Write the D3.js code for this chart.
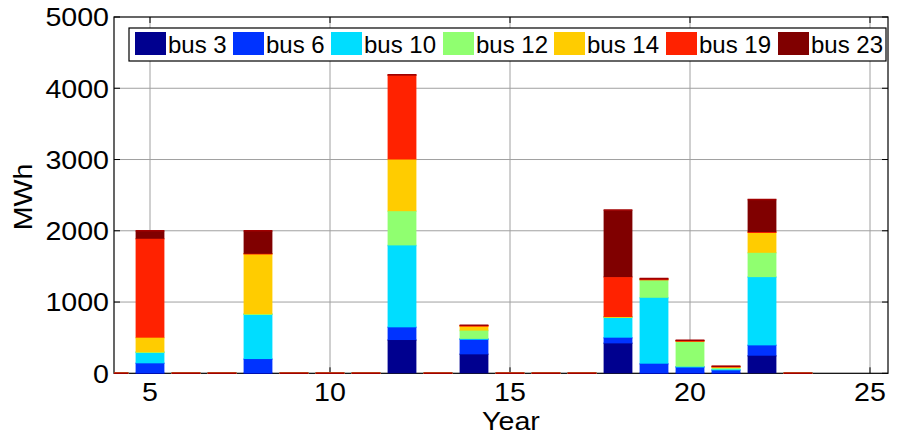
<!DOCTYPE html>
<html>
<head>
<meta charset="utf-8">
<script src="https://cdn.jsdelivr.net/npm/d3@7"></script>
<style>
  html, body { margin: 0; padding: 0; background: #fff; }
  svg { display: block; }
  text { font-family: "Liberation Sans", Arial, Helvetica, sans-serif; fill: #000; }
</style>
</head>
<body>
<svg id="chart" width="903" height="438"></svg>
<script>
// ---- data ----
const years = [4, 5, 6, 7, 8, 9, 10, 11, 12, 13, 14, 15, 16, 17, 18, 19, 20, 21, 22, 23];
const seriesNames = ["bus 3", "bus 6", "bus 10", "bus 12", "bus 14", "bus 19", "bus 23"];
const bus3  = [0, 0,    0, 0, 0,   0, 0, 0, 467,  0, 266, 0, 0, 0, 420, 0,   0,   0,  247, 0];
const bus6  = [0, 140,  0, 0, 200, 0, 0, 0, 178,  0, 217, 0, 0, 0, 80,  135, 93,  45, 145, 0];
const bus10 = [0, 155,  0, 0, 630, 0, 0, 0, 1150, 0, 0,   0, 0, 0, 290, 925, 0,   10, 958, 0];
const bus12 = [0, 0,    0, 0, 0,   0, 0, 0, 480,  0, 116, 0, 0, 0, 0,   258, 360, 25, 341, 0];
const bus14 = [0, 205,  0, 0, 847, 0, 0, 0, 725,  0, 60,  0, 0, 0, 0,   0,   0,   5,  290, 0];
const bus19 = [0, 1388, 0, 0, 0,   0, 0, 0, 1182, 0, 10,  0, 0, 0, 560, 0,   0,   10, 0,   0];
const bus23 = [0, 112,  0, 0, 323, 0, 0, 0, 8,    0, 5,   0, 0, 0, 940, 14,  12,  5,  459, 0];
const seriesColors = ["#00008f", "#0033ff", "#00ddff", "#90ff70", "#ffcc00", "#ff2200", "#800000"];
const xTicks = [5, 10, 15, 20, 25];
const yTicks = [0, 1000, 2000, 3000, 4000, 5000];
const xLabel = "Year";
const yLabel = "MWh";

// ---- layout ----
const svg = d3.select("#chart");
const L = 114, R = 888, T = 17, B = 373.3;
const x = d3.scaleLinear().domain([4, 25.5]).range([L, R]);
const y = d3.scaleLinear().domain([0, 5000]).range([B, T]);
const barW = x(4.8) - x(4);
const stretch = 1.1;

const allSeries = [bus3, bus6, bus10, bus12, bus14, bus19, bus23];
const table = years.map((yr, i) => {
  const o = { year: yr };
  seriesNames.forEach((n, k) => o[n] = allSeries[k][i]);
  return o;
});
const stacked = d3.stack().keys(seriesNames)(table);

// grid
const grid = svg.append("g");
xTicks.forEach(t => grid.append("line")
  .attr("x1", x(t)).attr("x2", x(t)).attr("y1", T).attr("y2", B)
  .attr("stroke", "#a0a0a0").attr("stroke-width", 1));
yTicks.filter(t => t > 0 && t < 5000).forEach(t => grid.append("line")
  .attr("x1", L).attr("x2", R).attr("y1", y(t)).attr("y2", y(t))
  .attr("stroke", "#a0a0a0").attr("stroke-width", 1));

// frame
svg.append("rect").attr("x", L).attr("y", T).attr("width", R - L).attr("height", B - T)
  .attr("fill", "none").attr("stroke", "#000").attr("stroke-width", 1.2);

// ticks (inside)
const tk = 6;
const ticks = svg.append("g").attr("stroke", "#000").attr("stroke-width", 1);
xTicks.forEach(t => {
  ticks.append("line").attr("x1", x(t)).attr("x2", x(t)).attr("y1", B).attr("y2", B - tk);
  ticks.append("line").attr("x1", x(t)).attr("x2", x(t)).attr("y1", T).attr("y2", T + tk);
});
yTicks.forEach(t => {
  ticks.append("line").attr("x1", L).attr("x2", L + tk).attr("y1", y(t)).attr("y2", y(t));
  ticks.append("line").attr("x1", R).attr("x2", R - tk).attr("y1", y(t)).attr("y2", y(t));
});

// bars
const clip = svg.append("clipPath").attr("id", "plotclip");
clip.append("rect").attr("x", L).attr("y", T - 2).attr("width", R - L).attr("height", B - T + 4);
const bars = svg.append("g").attr("clip-path", "url(#plotclip)");
stacked.forEach((s, k) => {
  const g = bars.append("g");
  g.selectAll("rect").data(s).join("rect")
    .attr("x", d => x(d.data.year) - barW / 2)
    .attr("width", barW)
    .attr("y", d => y(d[1]))
    .attr("height", d => Math.max(0, y(d[0]) - y(d[1])))
    .attr("fill", seriesColors[k]);
  g.selectAll("line").data(s).join("line")
    .attr("x1", d => x(d.data.year) - barW / 2)
    .attr("x2", d => x(d.data.year) + barW / 2)
    .attr("y1", d => y(d[1]))
    .attr("y2", d => y(d[1]))
    .attr("stroke", k === seriesNames.length - 1 ? "#a00000" : seriesColors[k])
    .attr("stroke-width", 1.5);
});

// tick labels
const fs = 26;
xTicks.forEach(t => {
  svg.append("text")
    .attr("transform", `translate(${x(t)},${401}) scale(${stretch},1)`)
    .attr("text-anchor", "middle").attr("font-size", fs).text(t);
});
yTicks.forEach(t => {
  svg.append("text")
    .attr("transform", `translate(${L - 5},${y(t) + 9.3}) scale(${stretch},1)`)
    .attr("text-anchor", "end").attr("font-size", fs).text(t);
});
svg.append("text")
  .attr("transform", `translate(${(L + R) / 2 + 10},${430}) scale(${stretch},1)`)
  .attr("text-anchor", "middle").attr("font-size", fs).text(xLabel);
svg.append("text")
  .attr("transform", `translate(${32},${197}) rotate(-90) scale(${stretch},1)`)
  .attr("text-anchor", "middle").attr("font-size", fs).text(yLabel);

// legend
const lg = svg.append("g");
const lgX = 129, lgY = 28, lgR = 886, lgB = 61;
lg.append("rect").attr("x", lgX).attr("y", lgY).attr("width", lgR - lgX).attr("height", lgB - lgY)
  .attr("fill", "#fff").attr("stroke", "#000").attr("stroke-width", 1.2);
const swX = [135, 233, 331, 443, 554, 666, 778];
seriesNames.forEach((n, k) => {
  lg.append("rect").attr("x", swX[k]).attr("y", 32).attr("width", 31).attr("height", 23)
    .attr("fill", seriesColors[k]);
  lg.append("text").attr("x", swX[k] + 33).attr("y", 53).attr("font-size", 24).text(n);
});
</script>
</body>
</html>
